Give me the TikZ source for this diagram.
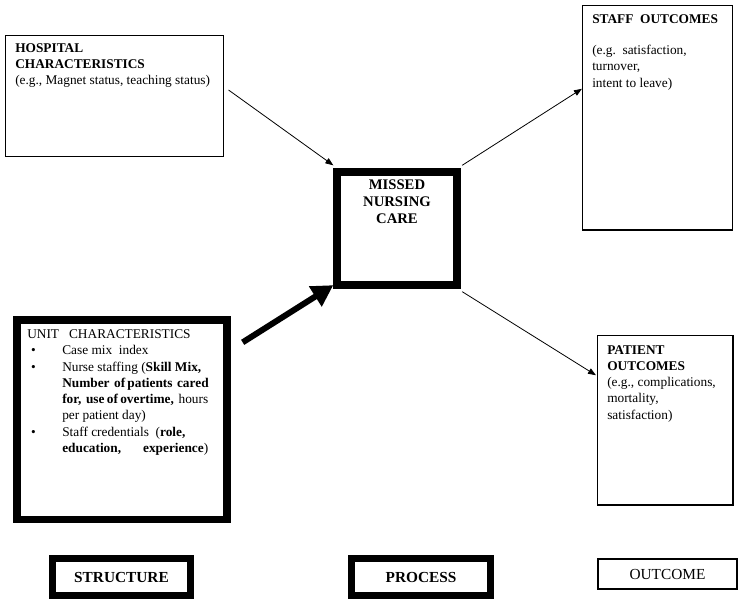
\documentclass[tikz,border=0pt]{standalone}
\usepackage{fontspec}
\setmainfont{Liberation Serif}
\usetikzlibrary{arrows.meta,calc}
\tikzset{
	thinbox/.style={draw=black,line width=0.8pt,inner sep=0pt},
	thickbox/.style={draw=black,line width=5.5pt,inner sep=0pt},
	boxtext/.style={anchor=north west,inner sep=0pt,align=left,font=\fontsize{10}{12.2}\selectfont},
	labeltext/.style={font=\fontsize{11.5}{13}\selectfont},
	thinarrow/.style={-{Triangle[length=6pt,width=4.5pt]},line width=0.6pt},
	thickarrow/.style={-{Triangle[length=16pt,width=17pt]},line width=4.5pt}
}
\newcommand{\jline}[1]{\makebox[109.5pt][s]{#1}}
\newcommand{\bitem}{\hspace*{2.8pt}\makebox[23.45pt][l]{\textbullet}}
\newcommand{\bskip}{\hspace*{26.25pt}}
\begin{document}
\begin{tikzpicture}[x=0.75pt,y=-0.75pt]
			\useasboundingbox (0,0) rectangle (744,606);
			% boxes
			\node[thinbox,minimum width=163.5pt,minimum height=90.75pt](hosp) at (114.5,96){};
			\node[thickbox,minimum width=90pt,minimum height=84.75pt](missed) at (397,228.5){};
			\node[thinbox,minimum width=112.5pt,minimum height=168.4pt](staff) at (657.5,117.75){};
			\node[thinbox,minimum width=101.6pt,minimum height=127.1pt](patient) at (665.25,420.25){};
			\node[thickbox,minimum width=157.5pt,minimum height=149.6pt](unit) at (122,419.75){};
			% box texts
			\node[boxtext](hosptext) at (15,43){\textbf{HOSPITAL}\\\textbf{CHARACTERISTICS}\\(e.g., Magnet status, teaching status)};
			\node[anchor=north,inner sep=0pt,align=center,font=\bfseries\fontsize{11}{12.75}\selectfont](missedtext) at (397,180){MISSED\\NURSING\\CARE};
			\node[boxtext](stafftext) at (592,14.5){\textbf{STAFF\ \ OUTCOMES}\\[11pt](e.g.\ \ satisfaction,\\turnover,\\intent to leave)};
			\node[boxtext](patienttext) at (607,345){\textbf{PATIENT}\\\textbf{OUTCOMES}\\(e.g., complications,\\mortality,\\satisfaction)};
			\node[boxtext](unittext) at (27,329.5){UNIT\ \ \ CHARACTERISTICS\\
				\bitem Case mix\ \ index\\
				\bitem Nurse staffing (\textbf{Skill Mix,}\\
				\bskip\jline{\textbf{Number\ \ of patients\ \ cared}}\\
				\bskip\jline{\textbf{for,\ \ use of overtime,}\ \ hours}\\
				\bskip per patient day)\\
				\bitem Staff credentials\ \ (\textbf{role,}\\
				\bskip\jline{\textbf{education,} \textbf{experience})}};
			% legend
			\node[thickbox,labeltext,font=\bfseries\fontsize{11.5}{13}\selectfont,minimum width=103.5pt,minimum height=27.75pt](structure) at (121.5,577){STRUCTURE};
			\node[thickbox,labeltext,font=\bfseries\fontsize{11.5}{13}\selectfont,minimum width=104pt,minimum height=27.75pt](process) at (421,577){PROCESS};
			\node[thinbox,labeltext,minimum width=104.25pt,minimum height=22.5pt](outcome) at (667.5,574){OUTCOME};
			% connectors
			\draw[thinarrow]($(hosp.east)+(4.5,-6)$)--($(missed.north west)+(0,-3)$);
			\draw[thinarrow]($(missed.north east)+(1.5,-3)$)--($(staff.west)+(0,-29)$);
			\draw[thinarrow]($(missed.south east)+(1.5,3)$)--($(patient.west)+(-1,-45)$);
			\draw[thickarrow]($(unit.north east)+(12,26)$)--($(missed.south west)+(0,-3.5)$);
		\end{tikzpicture}
\end{document}
